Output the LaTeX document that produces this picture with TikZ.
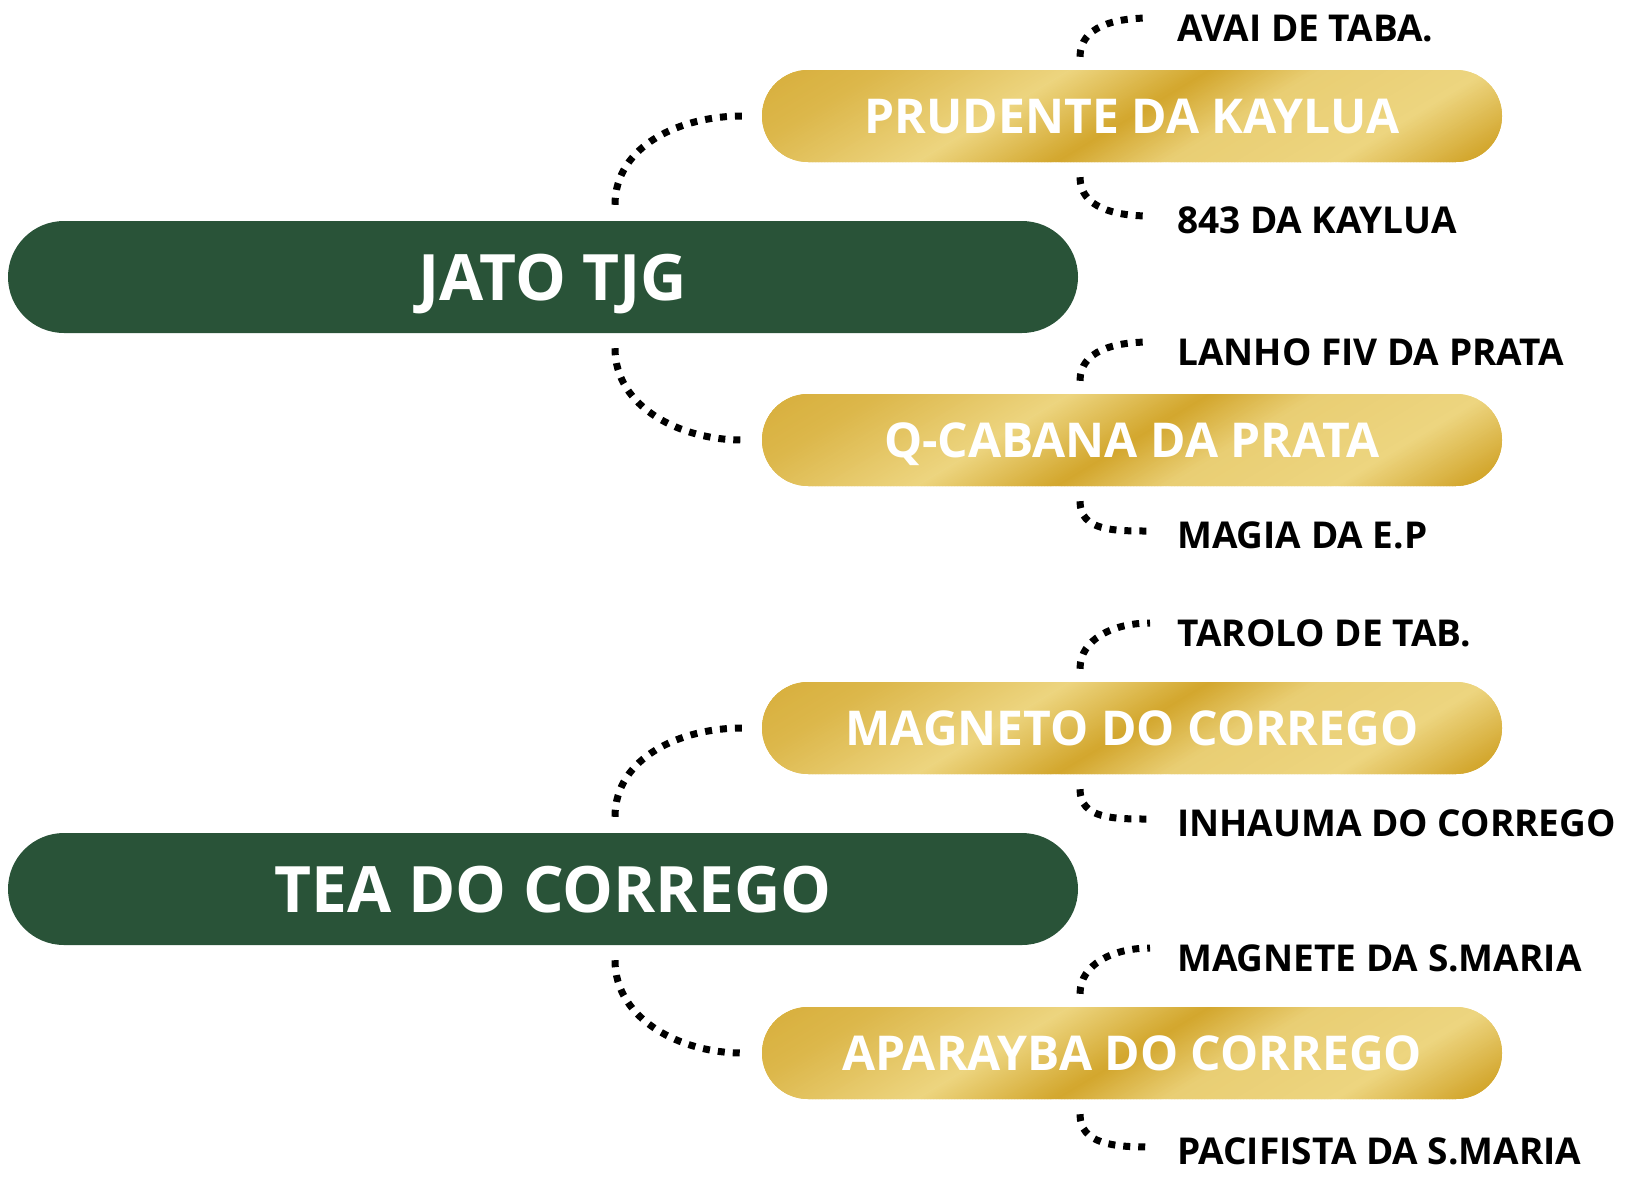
\documentclass[tikz,border=0pt]{standalone}
\usepackage{fontspec}
\setmainfont{Open Sans}
\usepackage{tikz}
\usetikzlibrary{calc,positioning}
\definecolor{forest}{RGB}{41,83,56}
\definecolor{golddk}{RGB}{211,167,46}
\definecolor{goldlt}{RGB}{237,213,128}

% slanted gold bands, drawn inside a branch box
\newcommand\goldbands{%
  \foreach \ua/\ca/\ub/\cb in {-90/15/40/35, 40/35/230/100, 230/100/370/0, 370/0/480/85,
                               480/85/650/100, 650/100/780/0, 780/0/850/30}{
    \pgfmathtruncatemacro\nst{(\ub-\ua)/3}
    \foreach \k in {1,...,\nst}{
      \pgfmathsetmacro\pu{\ua+3*(\k-1)}
      \pgfmathtruncatemacro\pc{\ca+(\cb-\ca)*(\k-1)/\nst}
      \fill[goldlt!\pc!golddk, sharp corners]
        ($(path picture bounding box.west)+(\pu-80,48)$) -- ++(7,0) -- ++(160,-96) -- ++(-7,0) -- cycle;
    }
  }%
}

\tikzset{
  hub/.style={fill=forest, rounded corners=56pt, minimum width=1070pt, minimum height=112pt,
              text=white, text height=46pt, text depth=0pt,
              font=\fontsize{64}{70}\selectfont\bfseries},
  branch/.style={rounded corners=46pt, minimum width=740pt, minimum height=92pt,
                 text=white, text height=34pt, text depth=0pt,
                 font=\fontsize{48}{54}\selectfont\bfseries, path picture={\goldbands}},
  leaf/.style={anchor=west, inner sep=0pt, text height=26.5pt, text depth=0pt,
               font=\fontsize{37}{40}\selectfont\bfseries},
  link/.style={line width=7pt, dash pattern=on 7pt off 8pt},
}

\begin{document}
\begin{tikzpicture}[x=1pt, y=-1pt]
\useasboundingbox (0,0) rectangle (1633,1192);

% main groups
\node[hub] (jato) at (543,277) {\hspace*{20pt}JATO TJG};
\node[hub] (tea) at (543,889) {\hspace*{20pt}TEA DO CORREGO};

% branches
\node[branch] (prud) at (1132,116) {PRUDENTE DA KAYLUA};
\node[branch] (qcab) at (1132,440) {Q-CABANA DA PRATA};
\node[branch] (magt) at (1132,728) {MAGNETO DO CORREGO};
\node[branch] (apar) at (1132,1053) {APARAYBA DO CORREGO};

% leaves
\node[leaf] (avai) at (1177,28) {AVAI DE TABA.};
\node[leaf] (kayl) at (1177,220) {843 DA KAYLUA};
\node[leaf] (lanh) at (1177,352) {LANHO FIV DA PRATA};
\node[leaf] (magi) at (1177,535) {MAGIA DA E.P};
\node[leaf] (taro) at (1177,633) {TAROLO DE TAB.};
\node[leaf] (inha) at (1177,823) {INHAUMA DO CORREGO};
\node[leaf] (magn) at (1177,958) {MAGNETE DA S.MARIA};
\node[leaf] (paci) at (1177,1151) {PACIFISTA DA S.MARIA};

% hub -> branch
\foreach \hb/\upb/\dnb in {jato/prud/qcab, tea/magt/apar}{
  \draw[link] ($(\hb.north)+(72,-16)$) .. controls +(0,-60) and +(-60,0) .. ($(\upb.west)+(-20,0)$);
  \draw[link] ($(\hb.south)+(72,15)$) .. controls +(0,60) and +(-60,0) .. ($(\dnb.west)+(-20,0)$);
}

% branch -> leaf
\foreach \br/\upl/\dnl in {prud/avai/kayl, qcab/lanh/magi, magt/taro/inha, apar/magn/paci}{
  \draw[link] ($(\br.north)+(-52,-13)$) .. controls +(0,-30) and +(-36,0) .. ($(\upl.west)+(-27,-10)$);
  \draw[link] ($(\br.south)+(-52,15)$) .. controls +(0,30) and +(-36,0) .. ($(\dnl.west)+(-27,-4)$);
}
\end{tikzpicture}
\end{document}
